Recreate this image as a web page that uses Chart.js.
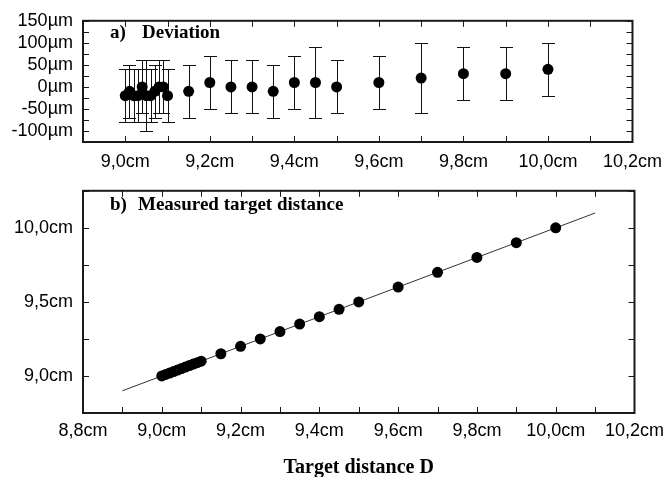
<!DOCTYPE html>
<html><head><meta charset="utf-8">
<script src="https://cdn.jsdelivr.net/npm/chart.js@4/dist/chart.umd.min.js"></script>
<style>
html,body{margin:0;padding:0;background:#fff;}
#wrap{position:relative;width:671px;height:477px;overflow:hidden;}
#c1{position:absolute;left:0;top:0;}
#c2{position:absolute;left:0;top:170px;}
</style></head><body>
<div id="wrap">
<canvas id="c1" width="671" height="172"></canvas>
<canvas id="c2" width="671" height="315"></canvas>
</div>
<script>
// ---- data (panel a: deviation, µm) ----
const devTarget = [9.00,9.01,9.02,9.03,9.04,9.05,9.06,9.07,9.08,9.09,9.10,9.15,9.20,9.25,9.30,9.35,9.40,9.45,9.50,9.60,9.70,9.80,9.90,10.00];
const devValue  = [-20,-10,-20,-20,0,-20,-20,-10,0,0,-20,-10,10,0,0,-10,10,10,0,10,20,30,30,40];
const devError  = [60,60,60,60,60,80,60,60,60,60,60,60,60,60,60,60,60,80,60,60,80,60,60,60];
// ---- data (panel b: measured distance, cm) ----
const measTarget = [9.00,9.01,9.02,9.03,9.04,9.05,9.06,9.07,9.08,9.09,9.10,9.15,9.20,9.25,9.30,9.35,9.40,9.45,9.50,9.60,9.70,9.80,9.90,10.00];
const measValue  = [9.00,9.01,9.02,9.03,9.04,9.05,9.06,9.07,9.08,9.09,9.10,9.15,9.20,9.25,9.30,9.35,9.40,9.45,9.50,9.60,9.70,9.80,9.90,10.00];
const fitX = [8.9, 10.1];
const fitY = [8.9, 10.1];
// ---- tick labels ----
const topXLabels = ['9,0cm','9,2cm','9,4cm','9,6cm','9,8cm','10,0cm','10,2cm'];
const topYLabels = ['-100µm','-50µm','0µm','50µm','100µm','150µm'];
const botXLabels = ['8,8cm','9,0cm','9,2cm','9,4cm','9,6cm','9,8cm','10,0cm','10,2cm'];
const botYLabels = ['9,0cm','9,5cm','10,0cm'];
const panelA = ['a)', 'Deviation'];
const panelB = ['b)', 'Measured target distance'];
const xTitle = 'Target distance D';

const cmLabel = v => (Math.round(v*10)/10).toFixed(1).replace('.', ',') + 'cm';
const cmLabel1 = v => (Math.round(v*100)/100).toFixed(1).replace('.', ',') + 'cm';
function pick(list, s){ return list.includes(s) ? s : ''; }

const tickFont = {family:'"Liberation Sans", Arial, sans-serif', size:18};
const serifBold = 'bold 19px "Liberation Serif", "Times New Roman", serif';

const frame = {
  id:'frame',
  afterDatasetsDraw(chart){
    const {ctx, chartArea:a, scales:{x,y}} = chart;
    ctx.save();
    ctx.strokeStyle = '#1a1a1a';
    ctx.lineWidth = 1;
    const L = 6;
    ctx.beginPath();
    x.ticks.forEach(t => {
      const px = Math.round(x.getPixelForValue(t.value)) + 0.5;
      ctx.moveTo(px, a.bottom); ctx.lineTo(px, a.bottom - L);
      ctx.moveTo(px, a.top); ctx.lineTo(px, a.top + L);
    });
    y.ticks.forEach(t => {
      const py = Math.round(y.getPixelForValue(t.value)) + 0.5;
      ctx.moveTo(a.left, py); ctx.lineTo(a.left + L, py);
      ctx.moveTo(a.right, py); ctx.lineTo(a.right - L, py);
    });
    ctx.stroke();
    ctx.lineWidth = 2;
    ctx.strokeRect(a.left, a.top, a.right - a.left, a.bottom - a.top);
    ctx.restore();
  }
};

const errorBars = {
  id:'errorBars',
  beforeDatasetsDraw(chart){
    const {ctx, scales:{x,y}} = chart;
    ctx.save();
    ctx.strokeStyle = '#111';
    ctx.lineWidth = 1;
    const cap = 6.5;
    devTarget.forEach((t,i) => {
      const px = Math.round(x.getPixelForValue(t)) + 0.5;
      const top = Math.round(y.getPixelForValue(devValue[i] + devError[i])) + 0.5;
      const bot = Math.round(y.getPixelForValue(devValue[i] - devError[i])) + 0.5;
      ctx.beginPath();
      ctx.moveTo(px, top); ctx.lineTo(px, bot);
      ctx.moveTo(px - cap, top); ctx.lineTo(px + cap, top);
      ctx.moveTo(px - cap, bot); ctx.lineTo(px + cap, bot);
      ctx.stroke();
    });
    ctx.restore();
  }
};

function panelLabel(parts, x1, x2, base){
  return {
    id:'panelLabel',
    afterDraw(chart){
      const ctx = chart.ctx;
      ctx.save();
      ctx.fillStyle = '#000';
      ctx.font = serifBold;
      ctx.textBaseline = 'alphabetic';
      ctx.textAlign = 'left';
      ctx.fillText(parts[0], x1, base);
      ctx.fillText(parts[1], x2, base);
      ctx.restore();
    }
  };
}

Chart.defaults.animation = false;

new Chart(document.getElementById('c1'), {
  type:'scatter',
  data:{ datasets:[{
    data: devTarget.map((t,i) => ({x:t, y:devValue[i]})),
    backgroundColor:'#000', borderColor:'#000', borderWidth:0,
    pointRadius:5.5, pointHoverRadius:5.5
  }]},
  options:{
    responsive:false, devicePixelRatio:1,
    layout:{padding:{top:13, right:31, left:0, bottom:0}},
    plugins:{legend:{display:false}, tooltip:{enabled:false}},
    scales:{
      x:{
        type:'linear', min:8.9, max:10.2,
        grid:{display:false, drawTicks:false}, border:{display:false},
        ticks:{stepSize:0.1, autoSkip:false, maxRotation:0, padding:9, color:'#000', font:tickFont,
          callback: v => pick(topXLabels, cmLabel(v))},
        afterFit: s => { s.height = 30; }
      },
      y:{
        type:'linear', min:-125, max:150,
        grid:{display:false, drawTicks:false}, border:{display:false},
        ticks:{stepSize:25, autoSkip:false, padding:10, color:'#000', font:tickFont,
          callback: v => pick(topYLabels, Math.round(v) + 'µm')},
        afterFit: s => { s.width = 83; }
      }
    }
  },
  plugins:[errorBars, frame, panelLabel(panelA, 110, 142, 38)]
});

new Chart(document.getElementById('c2'), {
  type:'scatter',
  data:{ datasets:[
    {
      data: measTarget.map((t,i) => ({x:t, y:measValue[i]})),
      backgroundColor:'#000', borderColor:'#000', borderWidth:0,
      pointRadius:5.5, pointHoverRadius:5.5, order:1
    },
    {
      data: fitX.map((t,i) => ({x:t, y:fitY[i]})),
      showLine:true, borderColor:'#333', borderWidth:1, pointRadius:0, order:2
    }
  ]},
  options:{
    responsive:false, devicePixelRatio:1,
    layout:{padding:{top:8, right:31, left:0, bottom:0}},
    plugins:{legend:{display:false}, tooltip:{enabled:false}},
    scales:{
      x:{
        type:'linear', min:8.8, max:10.2,
        grid:{display:false, drawTicks:false}, border:{display:false},
        ticks:{stepSize:0.1, autoSkip:false, maxRotation:0, padding:7, color:'#000', font:tickFont,
          callback: v => pick(botXLabels, cmLabel(v))},
        title:{display:true, text:xTitle, color:'#000',
          font:{family:'"Liberation Serif", "Times New Roman", serif', size:20, weight:'bold'},
          padding:{top:0, bottom:5}},
        afterFit: s => { s.height = 72; }
      },
      y:{
        type:'linear', min:8.75, max:10.25,
        grid:{display:false, drawTicks:false}, border:{display:false},
        ticks:{stepSize:0.25, autoSkip:false, padding:10, color:'#000', font:tickFont,
          callback: v => pick(botYLabels, cmLabel1(v))},
        afterFit: s => { s.width = 83; }
      }
    }
  },
  plugins:[frame, panelLabel(panelB, 110, 138, 40)]
});
</script>
</body></html>
